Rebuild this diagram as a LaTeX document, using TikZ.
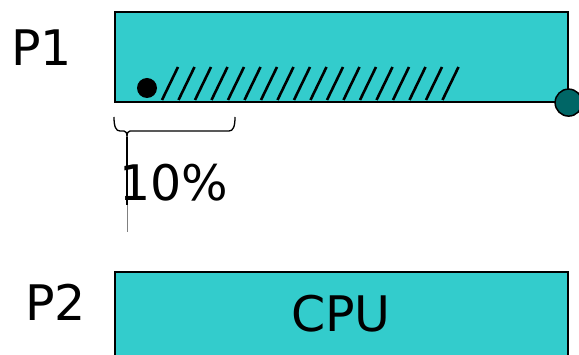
\documentclass[tikz,border=0pt]{standalone}
\usepackage{fontspec}
\setmainfont{DejaVu Sans}
\definecolor{cpufill}{HTML}{33CCCC}
\definecolor{dotteal}{HTML}{006666}
\begin{document}
\begin{tikzpicture}[x=1pt,y=-1pt,
  box/.style={draw=black, fill=cpufill, line width=1.6pt, inner sep=0pt, anchor=north west},
  lbl/.style={inner sep=0pt, font=\fontsize{49}{52}\selectfont},
  hatch/.style={line width=2.6pt, black}]
\useasboundingbox (0,0) rectangle (579,355);
% P1
\node[box, minimum width=453pt, minimum height=90pt] (p1box) at (114,11) {};
\node[lbl] (p1) at (41.5,47.5) {P1};
\foreach \i in {0,...,17} {
  \draw[hatch] (162+\i*16.5,100) -- (178+\i*16.5,67);
}
\node[circle, fill=black, inner sep=0pt, minimum size=20pt] (start) at (147,88) {};
\node[circle, draw=black, fill=dotteal, line width=1.5pt, inner sep=0pt, minimum size=27pt] (end) at (p1box.south east) {};
% brace
\coordinate (bl) at (114,117);
\coordinate (br) at (235,117);
\coordinate (tip) at (127,137);
\coordinate (lineend) at (127,205);
\coordinate (fadeend) at (127,232);
\draw[line width=1.3pt] (bl) .. controls (114,127) and (116,131) .. (120,131) -- (124,131)
  .. controls (126,131) and (127,133) .. (tip)
  (tip) .. controls (127,133) and (128,131) .. (130,131) -- (229,131)
  .. controls (233,131) and (235,127) .. (br);
\draw[line width=1.3pt] (tip) -- (lineend);
\draw[line width=0.6pt, gray] (lineend) -- (fadeend);
\node[lbl] (pct) at (174,183) {10\%};
% P2
\node[box, minimum width=453pt, minimum height=100pt] (p2box) at (114,271) {};
\node[lbl] (p2) at (55.5,302.5) {P2};
\node[lbl] (cpu) at (341,313.5) {CPU};
\end{tikzpicture}
\end{document}
